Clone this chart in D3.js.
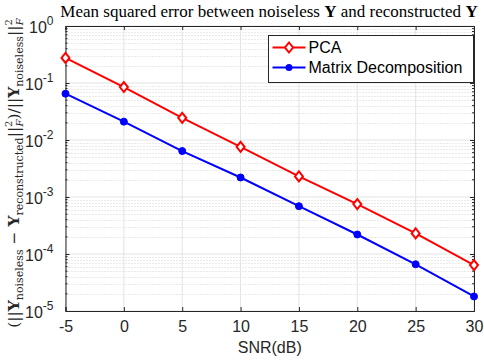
<!DOCTYPE html>
<html lang="en">
<head>
<meta charset="UTF-8">
<title>MSE vs SNR</title>
<style>
body { margin: 0; background: #fff; }
text { font-family: "Liberation Sans", Arial, sans-serif; }
.tex { font-family: "Liberation Serif", "DejaVu Serif", serif; }
.tex2 { font-family: "DejaVu Serif", "Liberation Serif", serif; }
</style>
</head>
<body>
<script src="https://cdnjs.cloudflare.com/ajax/libs/d3/7.8.5/d3.min.js"></script>
<script>
var snr = [-5, 0, 5, 10, 15, 20, 25, 30];
var pca = [0.275, 0.085, 0.0245, 0.0076, 0.0023, 0.00075, 0.00023, 0.000064];
var md  = [0.065, 0.021, 0.0064, 0.0022, 0.00069, 0.00022, 0.000066, 0.000018];
var xTicks = [-5, 0, 5, 10, 15, 20, 25, 30];
var yExps = [0, -1, -2, -3, -4, -5];

var width = 484, height = 360;
var m = { left: 65.5, right: 10, top: 26, bottom: 49 };

var svg = d3.select("body").append("svg")
  .attr("width", width).attr("height", height);

var x = d3.scaleLinear().domain([-5, 30]).range([m.left, width - m.right]);
var y = d3.scaleLog().domain([1e-5, 1]).range([height - m.bottom, m.top]);

var x0 = x.range()[0], x1 = x.range()[1], y0 = y.range()[0], y1 = y.range()[1];

// minor grid (horizontal, dotted)
var minor = [];
yExps.slice(0, -1).forEach(function (e) {
  for (var k = 2; k <= 9; k++) minor.push(k * Math.pow(10, e - 1));
});
svg.append("g").selectAll("line").data(minor).enter().append("line")
  .attr("x1", x0).attr("x2", x1)
  .attr("y1", d => Math.round(y(d)) + 0.5).attr("y2", d => Math.round(y(d)) + 0.5)
  .attr("stroke", "#d4d4d4").attr("stroke-width", 1).attr("stroke-dasharray", "1,2");

// major grid
svg.append("g").selectAll("line").data(xTicks).enter().append("line")
  .attr("x1", d => x(d)).attr("x2", d => x(d)).attr("y1", y0).attr("y2", y1)
  .attr("stroke", "#e3e3e3").attr("stroke-width", 1);
svg.append("g").selectAll("line").data(yExps).enter().append("line")
  .attr("x1", x0).attr("x2", x1)
  .attr("y1", d => y(Math.pow(10, d))).attr("y2", d => y(Math.pow(10, d)))
  .attr("stroke", "#e3e3e3").attr("stroke-width", 1);

// axes box
var ax = "#262626";
var xAxis = svg.append("g").attr("transform", "translate(0," + y0 + ")")
  .call(d3.axisBottom(x).tickValues(xTicks).tickSize(-4).tickPadding(10).tickFormat(d => String(d)));
var xAxisT = svg.append("g").attr("transform", "translate(0," + y1 + ")")
  .call(d3.axisTop(x).tickValues(xTicks).tickSize(-4).tickFormat(""));
var yAxis = svg.append("g").attr("transform", "translate(" + x0 + ",0)")
  .call(d3.axisLeft(y).tickValues(yExps.map(e => Math.pow(10, e))).tickSize(-4).tickFormat(""));
var yAxisR = svg.append("g").attr("transform", "translate(" + x1 + ",0)")
  .call(d3.axisRight(y).tickValues(yExps.map(e => Math.pow(10, e))).tickSize(-4).tickFormat(""));
[xAxis, xAxisT, yAxis, yAxisR].forEach(function (g) {
  g.selectAll("path, line").attr("stroke", ax);
  g.select(".domain").attr("stroke-width", 1);
  g.selectAll("text").attr("fill", ax).style("font-size", "16px")
    .style("font-family", "'Liberation Sans', Arial, sans-serif");
});
// minor ticks on y
[[x0, 1], [x1, -1]].forEach(function (p) {
  svg.append("g").selectAll("line").data(minor).enter().append("line")
    .attr("x1", p[0]).attr("x2", p[0] + 2 * p[1])
    .attr("y1", d => y(d)).attr("y2", d => y(d))
    .attr("stroke", ax).attr("stroke-width", 1);
});

// y tick labels 10^e
var yl = svg.append("g").selectAll("text").data(yExps).enter().append("text")
  .attr("x", x0 - 12).attr("y", d => y(Math.pow(10, d)) + 7)
  .attr("text-anchor", "end").attr("fill", ax).style("font-size", "16px");
yl.append("tspan").text("10");
yl.append("tspan").attr("dy", -8).style("font-size", "12px").text(d => d);

// lines
var line = d3.line().x(d => x(d[0])).y(d => y(d[1]));
var red = "#ff0000", blue = "#0000ff";
var pcaPts = snr.map((s, i) => [s, pca[i]]);
var mdPts = snr.map((s, i) => [s, md[i]]);

svg.append("path").datum(pcaPts).attr("d", line)
  .attr("fill", "none").attr("stroke", red).attr("stroke-width", 2);
svg.append("path").datum(mdPts).attr("d", line)
  .attr("fill", "none").attr("stroke", blue).attr("stroke-width", 2);

function diamond(cx, cy) {
  return "M" + cx + "," + (cy - 5) + "L" + (cx + 4) + "," + cy + "L" + cx + "," + (cy + 5) + "L" + (cx - 4) + "," + cy + "Z";
}
svg.append("g").selectAll("path").data(pcaPts).enter().append("path")
  .attr("d", d => diamond(x(d[0]), y(d[1])))
  .attr("fill", "#fff").attr("stroke", red).attr("stroke-width", 2);
svg.append("g").selectAll("circle").data(mdPts).enter().append("circle")
  .attr("cx", d => x(d[0])).attr("cy", d => y(d[1])).attr("r", 3.5)
  .attr("fill", blue).attr("stroke", blue).attr("stroke-width", 1);

// legend
var lg = svg.append("g").attr("transform", "translate(268.5,35.5)");
lg.append("rect").attr("width", 205).attr("height", 47)
  .attr("fill", "#fff").attr("stroke", ax).attr("stroke-width", 1);
var items = [["PCA", red, "d"], ["Matrix Decomposition", blue, "c"]];
items.forEach(function (it, i) {
  var cy = 12 + i * 20;
  lg.append("line").attr("x1", 4).attr("x2", 37).attr("y1", cy).attr("y2", cy)
    .attr("stroke", it[1]).attr("stroke-width", 2);
  if (it[2] === "d") lg.append("path").attr("d", diamond(20.5, cy)).attr("fill", "#fff").attr("stroke", it[1]).attr("stroke-width", 2);
  else lg.append("circle").attr("cx", 20.5).attr("cy", cy).attr("r", 3.5).attr("fill", it[1]);
  lg.append("text").attr("x", 40).attr("y", cy + 5.5).style("font-size", "16px")
    .attr("fill", "#000").text(it[0]);
});

// x label
svg.append("text").attr("x", (x0 + x1) / 2).attr("y", 353).attr("text-anchor", "middle")
  .attr("fill", ax).style("font-size", "16px").text("SNR(dB)");

// title
var t = svg.append("text").attr("class", "tex").attr("x", 269).attr("y", 17)
  .attr("text-anchor", "middle").attr("fill", "#000").style("font-size", "17px");
t.append("tspan").text("Mean squared error between noiseless ");
t.append("tspan").style("font-weight", "bold").text("Y");
t.append("tspan").text(" and reconstructed ");
t.append("tspan").style("font-weight", "bold").text("Y");

// y label
var lab = svg.append("text").attr("class", "tex2")
  .attr("transform", "translate(19,173) rotate(-90)")
  .attr("text-anchor", "middle").attr("fill", "#262626").style("font-size", "15.5px");
lab.append("tspan").text("(||");
lab.append("tspan").style("font-weight", "bold").text("Y");
lab.append("tspan").attr("dy", 4).style("font-size", "11px").text("noiseless");
lab.append("tspan").attr("dy", -4).text(" \u2212 ");
lab.append("tspan").style("font-weight", "bold").text("Y");
lab.append("tspan").attr("dy", 4).style("font-size", "11px").text("reconstructed");
lab.append("tspan").attr("dy", -4).text("||");
lab.append("tspan").attr("dy", -7).style("font-size", "10px").text("2");
lab.append("tspan").attr("dy", 11).attr("dx", -6).style("font-size", "10px").style("font-style", "italic").text("F");
lab.append("tspan").attr("dy", -4).text(")/||");
lab.append("tspan").style("font-weight", "bold").text("Y");
lab.append("tspan").attr("dy", 4).style("font-size", "11px").text("noiseless");
lab.append("tspan").attr("dy", -4).text("||");
lab.append("tspan").attr("dy", -7).style("font-size", "10px").text("2");
lab.append("tspan").attr("dy", 11).attr("dx", -6).style("font-size", "10px").style("font-style", "italic").text("F");
</script>
</body>
</html>
